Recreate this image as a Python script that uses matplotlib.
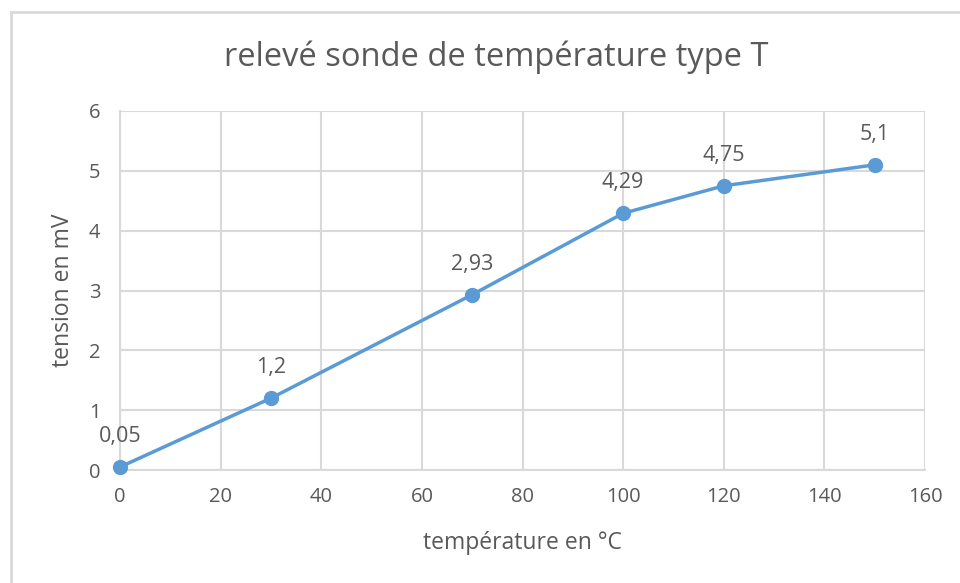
import matplotlib.pyplot as plt
from matplotlib.patches import Rectangle

temperature = [0, 30, 70, 100, 120, 150]
tension = [0.05, 1.2, 2.93, 4.29, 4.75, 5.1]
labels = ['0,05', '1,2', '2,93', '4,29', '4,75', '5,1']

plt.rcParams['font.family'] = ['Open Sans', 'DejaVu Sans']
txt = '#595959'
grid = '#D9D9D9'
blue = '#5B9BD5'

fig = plt.figure(figsize=(9.6, 5.83), dpi=100)
# chart frame, like the Excel chart area border
fig.patches.append(Rectangle((11 / 960, -0.1), 1.1, 1 - 12 / 583 + 0.1,
                             transform=fig.transFigure, fill=False,
                             edgecolor=grid, linewidth=2))

ax = fig.add_axes([120 / 960, 1 - 470 / 583, 805 / 960, 359 / 583])
ax.plot(temperature, tension, color=blue, linewidth=2.5, marker='o',
        markersize=10, zorder=3, clip_on=False)
for x, y, s in zip(temperature, tension, labels):
    ax.annotate(s, (x, y), xytext=(0, 22), textcoords='offset points',
                ha='center', va='center', fontsize=15.5, color=txt)

ax.set_xlim(0, 160)
ax.set_ylim(0, 6)
ax.set_xticks(range(0, 161, 20))
ax.set_yticks(range(0, 7))
ax.grid(True, color=grid, linewidth=1.5)
ax.set_axisbelow(True)
for side in ['top', 'right']:
    ax.spines[side].set_visible(False)
for side in ['left', 'bottom']:
    ax.spines[side].set_color(grid)
    ax.spines[side].set_linewidth(1.5)
ax.tick_params(length=0, labelsize=14.5, labelcolor=txt)
ax.tick_params(axis='y', pad=14)
ax.tick_params(axis='x', pad=12)

ax.set_xlabel('température en °C', fontsize=16.5, color=txt, va='center')
ax.set_ylabel('tension en mV', fontsize=16.5, color=txt, va='center')
ax.xaxis.set_label_coords(0.5, (470 - 543) / 359)
ax.yaxis.set_label_coords((63 - 120) / 805, 0.5)
fig.text(496 / 960, 1 - 57 / 583, 'relevé sonde de température type T',
         ha='center', va='center', fontsize=23.5, color=txt)

fig.savefig('out.png', dpi=100)
